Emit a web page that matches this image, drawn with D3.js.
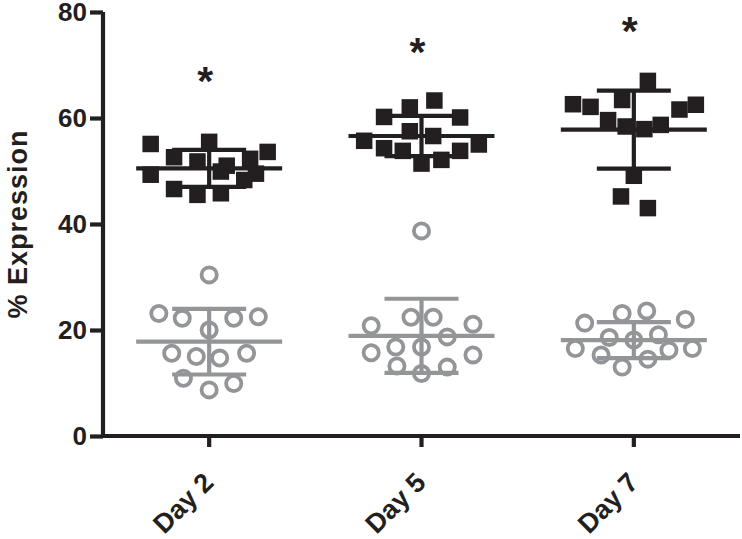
<!DOCTYPE html>
<html>
<meta charset="utf-8">
<script src="https://d3js.org/d3.v7.min.js"></script>
<style>
  body { margin: 0; background: #fff; }
  text { font-family: "Liberation Sans", Arial, sans-serif; }
</style>
<body>
<div id="chart"></div>
<script>
// categories and axis ticks
var days = ["Day 2", "Day 5", "Day 7"];
var yTicks = [0, 20, 40, 60, 80];

// black squares: value per point, jitter slot per point (one list per day)
var blackValues = [
  [55.1, 55.5, 53.6, 52.6, 51.8, 51.0, 52.3, 49.9, 49.5, 49.3, 46.6, 45.5, 45.8, 48.3],
  [63.3, 62.0, 60.2, 60.1, 57.5, 56.6, 55.7, 54.3, 53.8, 51.4, 52.1, 53.8, 55.0],
  [67.0, 63.4, 62.6, 62.1, 61.6, 62.5, 59.6, 58.4, 57.9, 58.7, 49.1, 45.2, 43.0]
];
var blackSlots = [
  [-5, 0, 5, -3, -1, 1.5, 3.5, 1, 4, -5, -3, -1, 1, 3],
  [1.1, -1, -3.2, 3.3, -1, 1, -4.9, -3.2, -1.6, 0, 1.7, 3.3, 4.9],
  [1.2, -1, -5.2, -3.7, 3.9, 5.3, -2.2, -0.7, 0.9, 2.3, 0, -1.1, 1.2]
];
// grey circles
var greyValues = [
  [30.4, 23.1, 22.2, 22.2, 22.5, 20.0, 15.6, 15.0, 14.7, 15.6, 10.9, 8.7, 9.9],
  [38.7, 22.4, 22.4, 20.8, 21.1, 18.7, 15.7, 16.8, 16.8, 15.3, 13.2, 11.8, 13.0],
  [23.6, 23.1, 21.3, 22.0, 18.6, 18.1, 19.1, 16.5, 15.3, 16.2, 16.5, 14.5, 13.0]
];
var greySlots = [
  [0, -4.3, -2.3, 2.1, 4.2, 0, -3.2, -1.1, 0.9, 3.2, -2.2, 0, 2.1],
  [0, -0.9, 1.0, -4.3, 4.4, 2.2, -4.3, -2.2, 0, 4.4, -2.1, 0, 2.2],
  [1.1, -1, -4.2, 4.4, -2.1, 0, 2.1, -5, -2.8, 3, 5, 1.2, -1]
];

// mean and SD as drawn
var blackMean = [50.5, 56.6, 57.8];
var blackSD = [3.5, 3.8, 7.35];
var greyMean = [17.8, 18.9, 18.1];
var greySD = [6.2, 7.0, 3.4];

// significance marks (height of the asterisk)
var starHeights = [68.7, 74.2, 78.1];

var W = 742, H = 539;
var mLeft = 103, mRight = 740, mTop = 12, mBottom = 436;
var dark = "#231f20", grey = "#939598";

var svg = d3.select("#chart").append("svg")
    .attr("width", W)
    .attr("height", H);

var x = d3.scaleBand().domain(days).range([mLeft, mRight]).padding(0);
var y = d3.scaleLinear().domain([0, 80]).range([mBottom, mTop]);
var slot = d3.scaleLinear().domain([-1, 1]).range([-11.7, 11.7]);

function cx(i, s) { return x(days[i]) + x.bandwidth() / 2 + slot(s); }

// grey circles
greyValues.forEach(function(vals, i) {
  svg.append("g").selectAll("circle")
    .data(vals)
    .enter().append("circle")
      .attr("cx", function(d, j) { return cx(i, greySlots[i][j]); })
      .attr("cy", function(d) { return y(d); })
      .attr("r", 7.6)
      .attr("fill", "none")
      .attr("stroke", grey)
      .attr("stroke-width", 3.8);
});

// black squares
var sq = 16.5;
blackValues.forEach(function(vals, i) {
  svg.append("g").selectAll("rect")
    .data(vals)
    .enter().append("rect")
      .attr("x", function(d, j) { return cx(i, blackSlots[i][j]) - sq / 2; })
      .attr("y", function(d) { return y(d) - sq / 2; })
      .attr("width", sq)
      .attr("height", sq)
      .attr("fill", dark);
});

// mean +/- SD bars
function bars(means, sds, color) {
  means.forEach(function(m, i) {
    var c = cx(i, 0);
    var g = svg.append("g").attr("stroke", color).attr("stroke-width", 4.2);
    g.append("line").attr("x1", c - 73).attr("x2", c + 73).attr("y1", y(m)).attr("y2", y(m));
    g.append("line").attr("x1", c).attr("x2", c).attr("y1", y(m - sds[i])).attr("y2", y(m + sds[i]));
    g.append("line").attr("x1", c - 37).attr("x2", c + 37).attr("y1", y(m + sds[i])).attr("y2", y(m + sds[i]));
    g.append("line").attr("x1", c - 37).attr("x2", c + 37).attr("y1", y(m - sds[i])).attr("y2", y(m - sds[i]));
  });
}
bars(greyMean, greySD, grey);
bars(blackMean, blackSD, dark);

// asterisks
svg.selectAll(".star")
  .data(starHeights)
  .enter().append("text")
    .attr("class", "star")
    .attr("x", function(d, i) { return cx(i, 0) - 4; })
    .attr("y", function(d) { return y(d) + 23; })
    .attr("text-anchor", "middle")
    .attr("font-size", 41)
    .attr("font-weight", "bold")
    .attr("fill", dark)
    .text("*");

// y axis
var yAxis = svg.append("g")
    .attr("transform", "translate(" + mLeft + ",0)")
    .call(d3.axisLeft(y).tickValues(yTicks).tickSize(13).tickPadding(3));
yAxis.select(".domain").attr("stroke", dark).attr("stroke-width", 4.2)
    .attr("d", "M0," + mTop + "V" + (mBottom + 2));
yAxis.selectAll(".tick line").attr("stroke", dark).attr("stroke-width", 4.2);
yAxis.selectAll(".tick text")
    .attr("fill", dark)
    .attr("font-size", 26)
    .attr("font-weight", "bold")
    .attr("font-family", "Liberation Sans, Arial, sans-serif");

// x axis
var xAxis = svg.append("g")
    .attr("transform", "translate(0," + mBottom + ")")
    .call(d3.axisBottom(x).tickSize(11).tickSizeOuter(0));
xAxis.select(".domain").attr("stroke", dark).attr("stroke-width", 4.2)
    .attr("d", "M" + (mLeft - 2) + ",0H" + mRight);
xAxis.selectAll(".tick line").attr("stroke", dark).attr("stroke-width", 4.2);
xAxis.selectAll(".tick text")
    .attr("fill", dark)
    .attr("font-size", 27)
    .attr("font-weight", "bold")
    .attr("font-family", "Liberation Sans, Arial, sans-serif")
    .attr("text-anchor", "end")
    .attr("dy", null)
    .attr("y", 0)
    .attr("transform", "translate(6,48) rotate(-45)");

// y axis title
svg.append("text")
    .attr("transform", "translate(27,224) rotate(-90)")
    .attr("text-anchor", "middle")
    .attr("font-size", 27)
    .attr("font-weight", "bold")
    .attr("letter-spacing", 1)
    .attr("fill", dark)
    .text("% Expression");
</script>
</body>
</html>
